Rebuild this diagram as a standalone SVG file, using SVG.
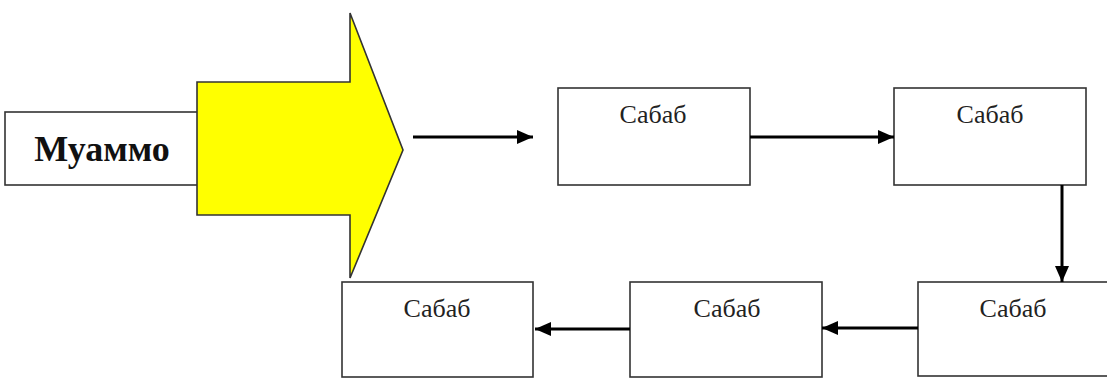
<svg xmlns="http://www.w3.org/2000/svg" width="1107" height="383" viewBox="0 0 1107 383">
<style>
.box{fill:#fff;stroke:#333;stroke-width:1.6}
.lbl{font-family:"Liberation Serif",serif;font-size:26px;fill:#222;text-anchor:middle}
.conn{stroke:#000;stroke-width:3;fill:none}
</style>
<defs>
<marker id="ah" viewBox="0 0 16 14" refX="16" refY="7" markerWidth="16" markerHeight="14" markerUnits="userSpaceOnUse" orient="auto">
<path d="M0,0 L16,7 L0,14 Z" fill="#000"/>
</marker>
</defs>
<rect width="1107" height="383" fill="#fff"/>
<g id="problem">
<rect class="box" x="5" y="112" width="200" height="73"/>
<text x="102" y="161" style="font-family:'Liberation Serif',serif;font-size:36px;font-weight:bold;fill:#111;text-anchor:middle">Муаммо</text>
</g>
<g id="big-arrow">
<path d="M197,82 L350,82 L350,13 L403,150 L350,278 L350,215 L197,215 Z" fill="#ffff00" stroke="#333" stroke-width="1.6" stroke-linejoin="miter"/>
</g>
<g id="cause1">
<rect class="box" x="558" y="88" width="192" height="97"/>
<text class="lbl" x="653" y="123">Сабаб</text>
</g>
<g id="cause2">
<rect class="box" x="894" y="88" width="192" height="97"/>
<text class="lbl" x="990" y="123">Сабаб</text>
</g>
<g id="cause3">
<rect class="box" x="918" y="282" width="192" height="94"/>
<text class="lbl" x="1013" y="317">Сабаб</text>
</g>
<g id="cause4">
<rect class="box" x="630" y="282" width="192" height="95"/>
<text class="lbl" x="727" y="317">Сабаб</text>
</g>
<g id="cause5">
<rect class="box" x="342" y="282" width="191" height="95"/>
<text class="lbl" x="437" y="317">Сабаб</text>
</g>
<g id="connectors">
<line class="conn" x1="413" y1="137" x2="533" y2="137" marker-end="url(#ah)"/>
<line class="conn" x1="750" y1="137" x2="894" y2="137" marker-end="url(#ah)"/>
<line class="conn" x1="1062" y1="185" x2="1062" y2="282" marker-end="url(#ah)"/>
<line class="conn" x1="918" y1="328" x2="822" y2="328" marker-end="url(#ah)"/>
<line class="conn" x1="630" y1="329" x2="535" y2="329" marker-end="url(#ah)"/>
</g>
</svg>
